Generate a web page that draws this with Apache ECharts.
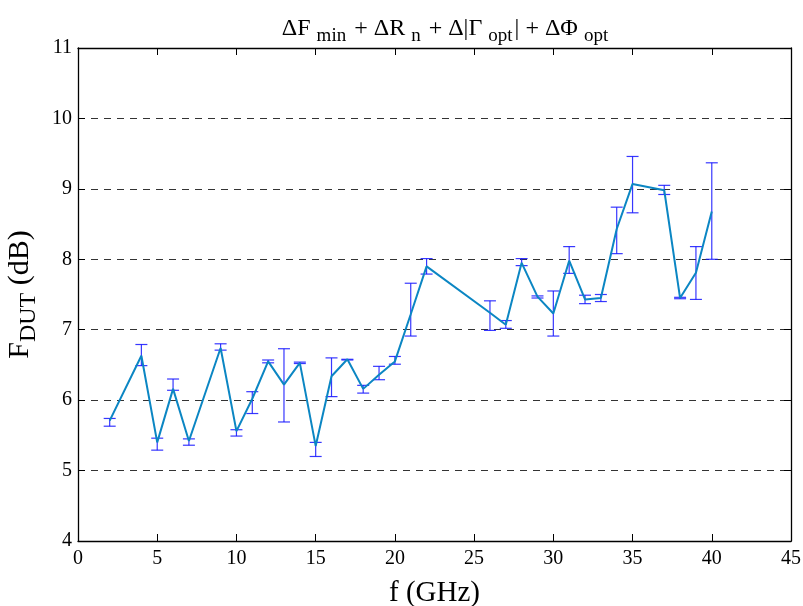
<!DOCTYPE html>
<html>
<head>
<meta charset="utf-8">
<script src="https://cdn.jsdelivr.net/npm/echarts@6/dist/echarts.min.js"></script>
<style>
  html, body { margin: 0; padding: 0; background: #fff; }
  #chart { width: 803px; height: 606px; }
</style>
</head>
<body>
<div id="chart"></div>
<script>
// frequences (GHz)
const freq = [2, 4, 5, 6, 7, 9, 10, 11, 12, 13, 14, 15, 16, 17, 18, 19, 20, 21, 22, 26, 27, 28, 29, 30, 31, 32, 33, 34, 35, 37, 38, 39, 40];
// valeurs moyennes F_DUT (dB)
const fMean = [5.71, 6.63, 5.40, 6.16, 5.42, 6.74, 5.56, 6.02, 6.55, 6.22, 6.53, 5.35, 6.34, 6.58, 6.16, 6.36, 6.55, 7.22, 7.90, 7.24, 7.07, 7.95, 7.47, 7.23, 7.98, 7.43, 7.45, 8.43, 9.07, 8.98, 7.45, 7.81, 8.68];
// bornes des barres d'erreur
const fLow = [5.63, 6.49, 5.29, 6.14, 5.36, 6.71, 5.49, 5.81, 6.53, 5.69, 6.52, 5.20, 6.05, 6.57, 6.10, 6.29, 6.51, 6.91, 7.79, 6.99, 7.02, 7.91, 7.45, 6.91, 7.80, 7.37, 7.40, 8.08, 8.66, 8.92, 7.44, 7.43, 8.00];
const fHigh = [5.74, 6.79, 5.46, 6.30, 5.45, 6.80, 5.58, 6.12, 6.57, 6.73, 6.54, 5.40, 6.60, 6.58, 6.21, 6.48, 6.62, 7.66, 8.01, 7.41, 7.13, 8.01, 7.48, 7.55, 8.18, 7.49, 7.50, 8.74, 9.46, 9.05, 7.46, 8.18, 9.37];

const font = 'Liberation Serif';

const chart = echarts.init(document.getElementById('chart'), null, { renderer: 'canvas' });

const lineData = freq.map((f, i) => [f, fMean[i]]);
const errData = freq.map((f, i) => [f, fLow[i], fHigh[i]]);

const tickStyle = { inside: true, length: 7, lineStyle: { color: '#000', width: 1 } };
const axisLine = { show: true, onZero: false, lineStyle: { color: '#000', width: 1.3 } };

const option = {
    animation: false,
    backgroundColor: '#fff',
    title: {
        text: 'ΔF{sub|min} + ΔR{sub|n} + Δ|Γ{sub|opt}| + ΔΦ{sub|opt}',
        left: 441,
        top: 6,
        textAlign: 'center',
        textStyle: {
            fontFamily: font,
            fontSize: 24,
            fontWeight: 'normal',
            color: '#000',
            rich: {
                sub: { fontFamily: font, fontSize: 19, color: '#000', padding: [16, 2, 0, 6], verticalAlign: 'bottom' }
            }
        }
    },
    grid: { left: 78, right: 12, top: 48, bottom: 65, outerBoundsMode: 'none' },
    xAxis: [
        {
            type: 'value', min: 0, max: 45, interval: 5,
            axisLine: axisLine, axisTick: tickStyle, splitLine: { show: false },
            axisLabel: { fontFamily: font, fontSize: 20, color: '#000', margin: 8 },
            name: 'f (GHz)', nameLocation: 'middle', nameGap: 38,
            nameTextStyle: { fontFamily: font, fontSize: 29, color: '#000' }
        },
        {
            type: 'value', position: 'top', min: 0, max: 45, interval: 5,
            axisLine: axisLine, axisTick: tickStyle, splitLine: { show: false },
            axisLabel: { show: false }
        }
    ],
    yAxis: [
        {
            type: 'value', min: 4, max: 11, interval: 1,
            axisLine: axisLine, axisTick: tickStyle,
            splitLine: { show: true, lineStyle: { color: '#333', type: [7, 6], width: 1 } },
            axisLabel: { fontFamily: font, fontSize: 20, color: '#000', margin: 6 },
            name: 'F{sub|DUT} (dB)', nameLocation: 'middle', nameGap: 36, nameRotate: 90,
            nameTextStyle: {
                fontFamily: font, fontSize: 30, color: '#000',
                rich: { sub: { fontFamily: font, fontSize: 24, color: '#000', padding: [18, 0, 0, 0], verticalAlign: 'bottom' } }
            }
        },
        {
            type: 'value', position: 'right', min: 4, max: 11, interval: 1,
            axisLine: axisLine, axisTick: tickStyle, splitLine: { show: false },
            axisLabel: { show: false }
        }
    ],
    series: [
        {
            name: 'erreur',
            type: 'custom',
            data: errData,
            z: 2,
            renderItem: function (params, api) {
                const x = api.value(0);
                const lo = api.coord([x, api.value(1)]);
                const hi = api.coord([x, api.value(2)]);
                const hw = 6;
                const st = { stroke: 'rgba(20,20,255,0.85)', lineWidth: 1.2 };
                return {
                    type: 'group',
                    children: [
                        { type: 'line', shape: { x1: lo[0], y1: lo[1], x2: hi[0], y2: hi[1] }, style: st },
                        { type: 'line', shape: { x1: lo[0] - hw, y1: lo[1], x2: lo[0] + hw, y2: lo[1] }, style: st },
                        { type: 'line', shape: { x1: hi[0] - hw, y1: hi[1], x2: hi[0] + hw, y2: hi[1] }, style: st }
                    ]
                };
            }
        },
        {
            name: 'F_DUT',
            type: 'line',
            data: lineData,
            z: 3,
            symbol: 'none',
            lineStyle: { color: '#0b86c3', width: 2 }
        }
    ]
};

chart.setOption(option);
</script>
</body>
</html>
